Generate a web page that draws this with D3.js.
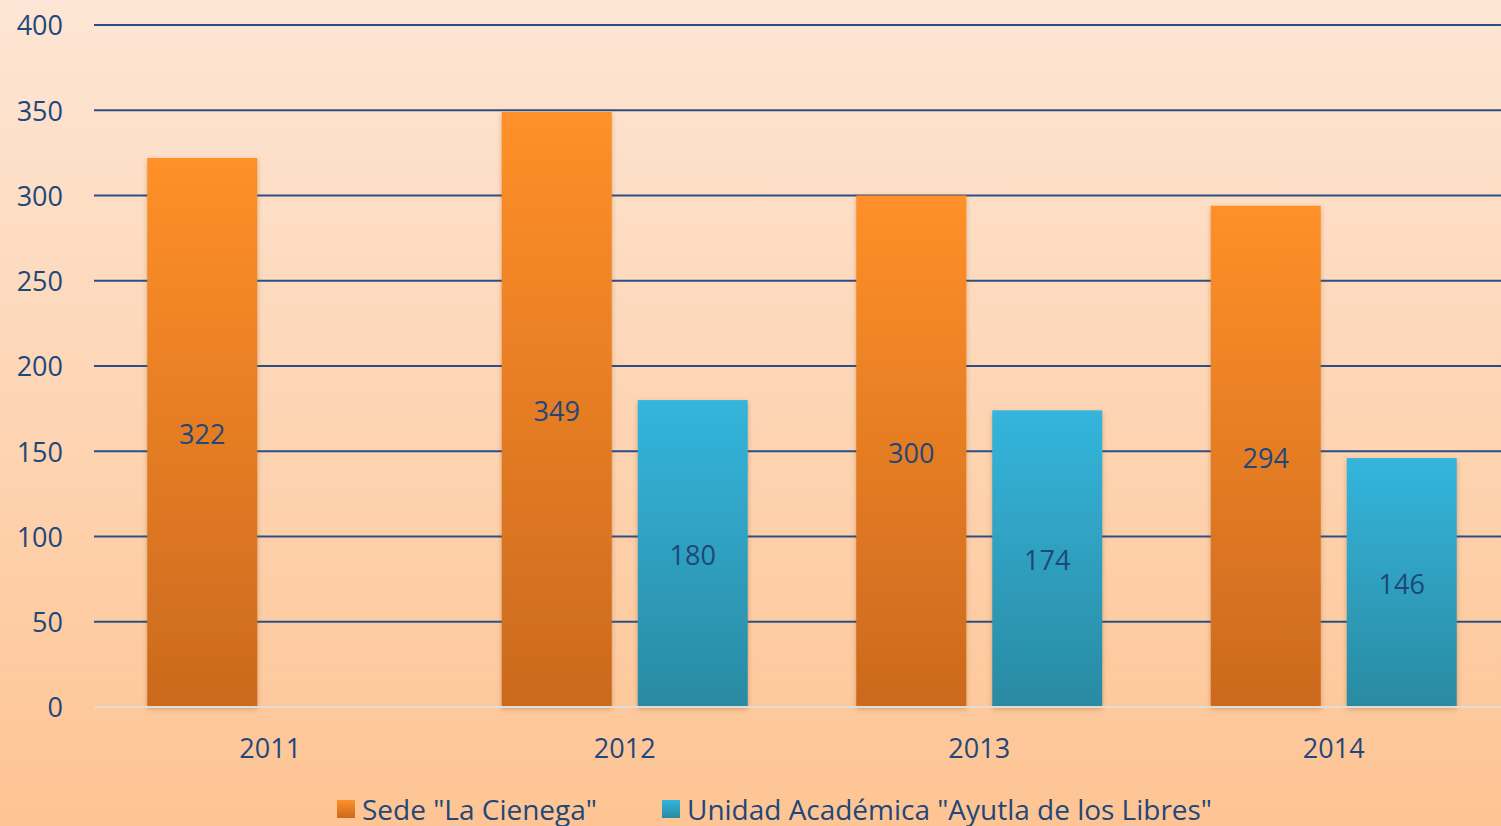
<!DOCTYPE html>
<html>
<head>
<meta charset="utf-8">
<script src="https://cdn.jsdelivr.net/npm/d3@7"></script>
<style>
  html, body { margin: 0; padding: 0; overflow: hidden; }
  svg { display: block; font-family: "Open Sans", sans-serif; }
</style>
</head>
<body>
<svg width="1501" height="826"></svg>
<script>
const years = ["2011", "2012", "2013", "2014"]
const seriesNames = ["Sede \"La Cienega\"", "Unidad Académica \"Ayutla de los Libres\""]
const sedeValues = [322, 349, 300, 294]
const unidadValues = [null, 180, 174, 146]
const yTicks = [0, 50, 100, 150, 200, 250, 300, 350, 400]

function drawChart() {
    const svg = d3.select("svg")
    const width = 1501
    const height = 826
    const textColor = "#1f477a"

    const defs = svg.append("defs")
    const bg = defs.append("linearGradient").attr("id", "bg")
        .attr("x1", 0).attr("y1", 0).attr("x2", 0).attr("y2", 1)
    bg.append("stop").attr("offset", "0%").attr("stop-color", "#fde6d5")
    bg.append("stop").attr("offset", "100%").attr("stop-color", "#fec493")

    const gradOrange = defs.append("linearGradient").attr("id", "gOrange")
        .attr("x1", 0).attr("y1", 0).attr("x2", 0).attr("y2", 1)
    gradOrange.append("stop").attr("offset", "0%").attr("stop-color", "#ff9029")
    gradOrange.append("stop").attr("offset", "100%").attr("stop-color", "#cb691e")

    const gradBlue = defs.append("linearGradient").attr("id", "gBlue")
        .attr("x1", 0).attr("y1", 0).attr("x2", 0).attr("y2", 1)
    gradBlue.append("stop").attr("offset", "0%").attr("stop-color", "#34b5dc")
    gradBlue.append("stop").attr("offset", "100%").attr("stop-color", "#2a8aa2")

    const shadow = defs.append("filter").attr("id", "shadow")
        .attr("x", "-10%").attr("y", "-5%").attr("width", "120%").attr("height", "110%")
    shadow.append("feDropShadow").attr("dx", 0).attr("dy", 2)
        .attr("stdDeviation", 2.5).attr("flood-color", "#7a4a20").attr("flood-opacity", 0.35)

    svg.append("rect")
        .attr("width", width)
        .attr("height", height)
        .attr("fill", "url(#bg)")

    const x = d3.scaleBand().domain(years).range([93, 1511])
    const y = d3.scaleLinear().domain([0, 400]).range([707, 25])
    const barW = 110
    const gap = 26
    const series = [
        { values: sedeValues, fill: "url(#gOrange)", offset: -(gap / 2 + barW) },
        { values: unidadValues, fill: "url(#gBlue)", offset: gap / 2 }
    ]

    // gridlines
    svg.append("g").selectAll("line")
        .data(yTicks.filter(d => d > 0))
        .enter()
        .append("line")
        .attr("x1", 94).attr("x2", width)
        .attr("y1", d => y(d)).attr("y2", d => y(d))
        .attr("stroke", "#2b4f85")
        .attr("stroke-width", 2)

    // y tick labels
    svg.append("g").selectAll("text")
        .data(yTicks)
        .enter()
        .append("text")
        .attr("x", 63)
        .attr("y", d => y(d) + 1)
        .attr("dy", "0.35em")
        .attr("text-anchor", "end")
        .attr("font-size", 27)
        .attr("fill", textColor)
        .text(d => d)

    // bars
    series.forEach(s => {
        const pts = years.map((yr, i) => ({ yr, v: s.values[i] })).filter(d => d.v != null)
        const g = svg.append("g")
        g.selectAll("rect")
            .data(pts)
            .enter()
            .append("rect")
            .attr("x", d => x(d.yr) + x.bandwidth() / 2 + s.offset)
            .attr("y", d => y(d.v))
            .attr("width", barW)
            .attr("height", d => y(0) - y(d.v))
            .attr("fill", s.fill)
            .attr("filter", "url(#shadow)")
        g.selectAll("text")
            .data(pts)
            .enter()
            .append("text")
            .attr("x", d => x(d.yr) + x.bandwidth() / 2 + s.offset + barW / 2)
            .attr("y", d => (y(d.v) + y(0)) / 2 + 2)
            .attr("dy", "0.35em")
            .attr("text-anchor", "middle")
            .attr("font-size", 27)
            .attr("fill", textColor)
            .text(d => d.v)
    })

    // zero line
    svg.append("line")
        .attr("x1", 94).attr("x2", width)
        .attr("y1", y(0)).attr("y2", y(0))
        .attr("stroke", "#e2dcd6")
        .attr("stroke-width", 2)

    // x labels
    svg.append("g").selectAll("text")
        .data(years)
        .enter()
        .append("text")
        .attr("x", d => x(d) + x.bandwidth() / 2)
        .attr("y", 749)
        .attr("dy", "0.35em")
        .attr("text-anchor", "middle")
        .attr("font-size", 27)
        .attr("fill", textColor)
        .text(d => d)

    // legend
    const legend = [
        { name: seriesNames[0], fill: "url(#gOrange)", x: 337, w: 235 },
        { name: seriesNames[1], fill: "url(#gBlue)", x: 662, w: 525 }
    ]
    const lg = svg.append("g").selectAll("g")
        .data(legend)
        .enter()
        .append("g")
    lg.append("rect")
        .attr("x", d => d.x).attr("y", 800)
        .attr("width", 18).attr("height", 18)
        .attr("fill", d => d.fill)
    lg.append("text")
        .attr("x", d => d.x + 25)
        .attr("y", 810)
        .attr("dy", "0.35em")
        .attr("font-size", 28)
        .attr("textLength", d => d.w)
        .attr("lengthAdjust", "spacingAndGlyphs")
        .attr("fill", textColor)
        .text(d => d.name)
}
drawChart()
</script>
</body>
</html>
